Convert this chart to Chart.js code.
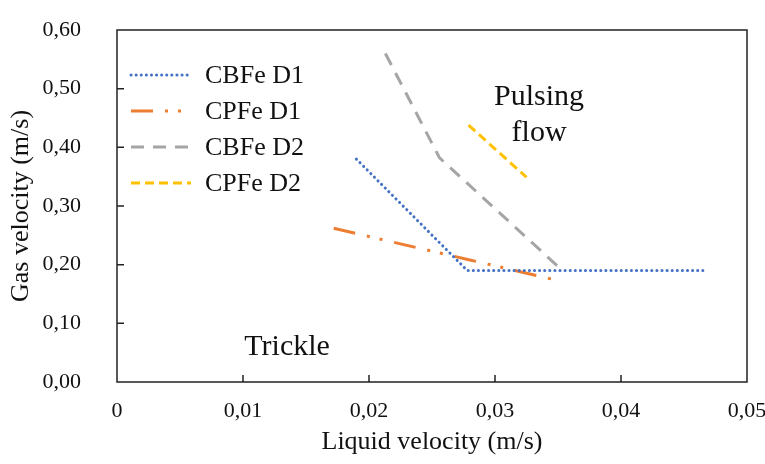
<!DOCTYPE html>
<html>
<head>
<meta charset="utf-8">
<script src="https://cdn.jsdelivr.net/npm/chart.js@4"></script>
<style>
  html, body { margin: 0; padding: 0; background: #fff; }
  #wrap { width: 765px; height: 464px; }
</style>
</head>
<body>
<div id="wrap"><canvas id="flowChart"></canvas></div>
<script>
const seriesNames = ["CBFe D1", "CPFe D1", "CBFe D2", "CPFe D2"];

const cbfeD1X = [0.019, 0.0278, 0.0467];
const cbfeD1Y = [0.38, 0.19, 0.19];

const cpfeD1X = [0.0172, 0.028, 0.0346];
const cpfeD1Y = [0.262, 0.208, 0.175];

const cbfeD2X = [0.0213, 0.0256, 0.0351];
const cbfeD2Y = [0.56, 0.382, 0.195];

const cpfeD2X = [0.0279, 0.0325];
const cpfeD2Y = [0.438, 0.349];

const xTicks = [0, 0.01, 0.02, 0.03, 0.04, 0.05];
const yTicks = [0, 0.1, 0.2, 0.3, 0.4, 0.5, 0.6];

const regionLabels = [
  { text: "Pulsing", x: 0.0335, y: 0.485 },
  { text: "flow", x: 0.0335, y: 0.425 },
  { text: "Trickle", x: 0.0135, y: 0.06 },
];

const FONT = "'Liberation Serif', 'Times New Roman', serif";

const toPoints = (xs, ys) => xs.map((x, i) => ({ x: x, y: ys[i] }));
const comma = (v, d) => (v === 0 && d === 0 ? "0" : v.toFixed(2).replace(".", ","));

// black frame round the plot area plus short inward ticks
const framePlugin = {
  id: "frame",
  afterDatasetsDraw(chart) {
    const { ctx, chartArea: a, scales } = chart;
    ctx.save();
    ctx.strokeStyle = "#222";
    ctx.lineWidth = 1.5;
    ctx.strokeRect(a.left, a.top, a.right - a.left, a.bottom - a.top);
    ctx.beginPath();
    xTicks.slice(1, -1).forEach((t) => {
      const px = scales.x.getPixelForValue(t);
      ctx.moveTo(px, a.bottom);
      ctx.lineTo(px, a.bottom - 7);
    });
    yTicks.slice(1, -1).forEach((t) => {
      const py = scales.y.getPixelForValue(t);
      ctx.moveTo(a.left, py);
      ctx.lineTo(a.left + 7, py);
    });
    ctx.stroke();
    ctx.restore();
  },
};

// region names placed in data coordinates
const regionPlugin = {
  id: "regions",
  afterDatasetsDraw(chart) {
    const { ctx, scales } = chart;
    ctx.save();
    ctx.fillStyle = "#111";
    ctx.font = "30px " + FONT;
    ctx.textAlign = "center";
    ctx.textBaseline = "middle";
    regionLabels.forEach((r) => {
      ctx.fillText(r.text, scales.x.getPixelForValue(r.x), scales.y.getPixelForValue(r.y));
    });
    ctx.restore();
  },
};

// legend drawn inside the plot, top left
const innerLegend = {
  id: "innerLegend",
  afterDatasetsDraw(chart) {
    const { ctx, chartArea: a } = chart;
    ctx.save();
    chart.data.datasets.forEach((ds, i) => {
      const y = a.top + 45 + i * 36;
      const x0 = a.left + 14;
      ctx.beginPath();
      ctx.strokeStyle = ds.borderColor;
      ctx.lineWidth = ds.borderWidth;
      ctx.lineCap = ds.borderCapStyle || "butt";
      ctx.setLineDash(ds.borderDash || []);
      ctx.moveTo(x0, y);
      ctx.lineTo(x0 + 60, y);
      ctx.stroke();
      ctx.setLineDash([]);
      ctx.fillStyle = "#111";
      ctx.font = "26px " + FONT;
      ctx.textBaseline = "middle";
      ctx.fillText(ds.label, x0 + 74, y + 1);
    });
    ctx.restore();
  },
};

new Chart(document.getElementById("flowChart"), {
  type: "scatter",
  data: {
    datasets: [
      {
        label: seriesNames[0],
        data: toPoints(cbfeD1X, cbfeD1Y),
        borderColor: "#4472C4",
        borderWidth: 3,
        borderDash: [0.1, 5],
        borderCapStyle: "round",
      },
      {
        label: seriesNames[1],
        data: toPoints(cpfeD1X, cpfeD1Y),
        borderColor: "#ED7D31",
        borderWidth: 3,
        borderDash: [22, 12, 3, 10, 3, 12],
      },
      {
        label: seriesNames[2],
        data: toPoints(cbfeD2X, cbfeD2Y),
        borderColor: "#A5A5A5",
        borderWidth: 3,
        borderDash: [13, 9],
      },
      {
        label: seriesNames[3],
        data: toPoints(cpfeD2X, cpfeD2Y),
        borderColor: "#FFC000",
        borderWidth: 3,
        borderDash: [9, 5],
      },
    ].map((d) => ({ ...d, showLine: true, pointRadius: 0, fill: false, tension: 0 })),
  },
  options: {
    responsive: true,
    maintainAspectRatio: false,
    animation: false,
    layout: { autoPadding: false, padding: { top: 30, right: 18, left: 0, bottom: 0 } },
    plugins: {
      legend: { display: false },
      tooltip: { enabled: false },
    },
    scales: {
      x: {
        type: "linear",
        min: 0,
        max: 0.05,
        afterBuildTicks: (s) => { s.ticks = xTicks.map((v) => ({ value: v })); },
        afterFit: (s) => { s.height = 82; s.paddingRight = 0; s.paddingLeft = 0; },
        grid: { display: false, drawTicks: false },
        border: { display: false },
        ticks: {
          color: "#111",
          font: { family: FONT, size: 22 },
          padding: 16,
          maxRotation: 0,
          callback: (v) => comma(v, v === 0 ? 0 : 2),
        },
        title: {
          display: true,
          text: "Liquid velocity (m/s)",
          color: "#111",
          font: { family: FONT, size: 26 },
          padding: { top: 0, bottom: 6 },
        },
      },
      y: {
        type: "linear",
        min: 0,
        max: 0.6,
        afterBuildTicks: (s) => { s.ticks = yTicks.map((v) => ({ value: v })); },
        afterFit: (s) => { s.width = 117; s.paddingTop = 0; s.paddingBottom = 0; },
        grid: { display: false, drawTicks: false },
        border: { display: false },
        ticks: {
          color: "#111",
          font: { family: FONT, size: 22 },
          padding: 36,
          callback: (v) => comma(v, 2),
        },
        title: {
          display: true,
          text: "Gas velocity (m/s)",
          color: "#111",
          font: { family: FONT, size: 26 },
          padding: { top: 6, bottom: 0 },
        },
      },
    },
  },
  plugins: [framePlugin, regionPlugin, innerLegend],
});
</script>
</body>
</html>
